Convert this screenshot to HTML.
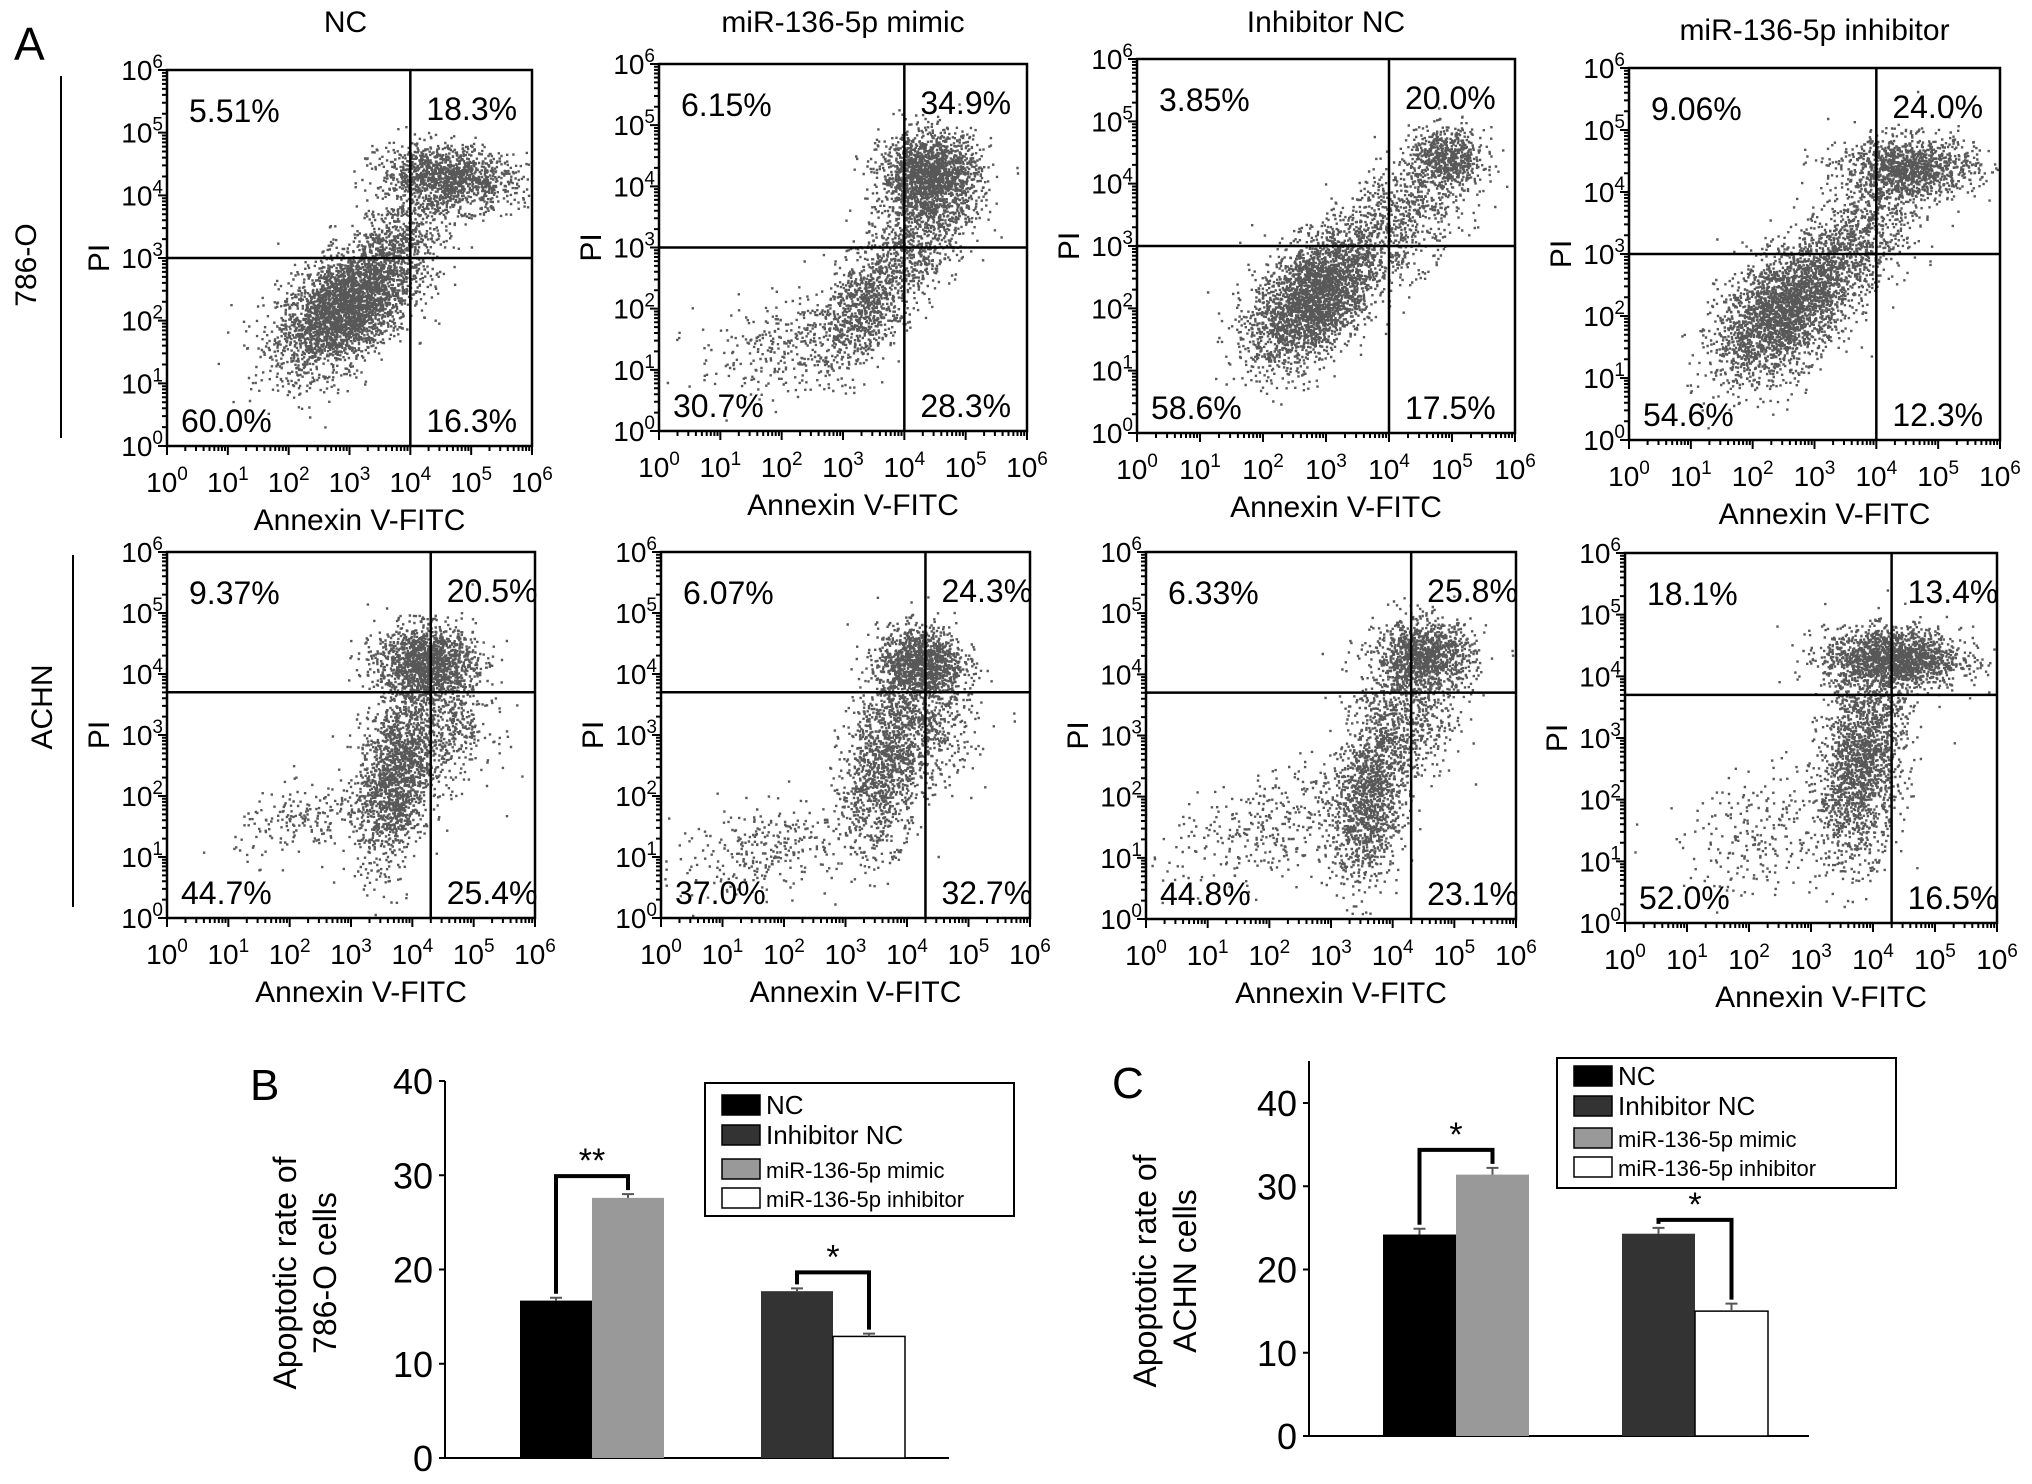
<!DOCTYPE html>
<html><head><meta charset="utf-8"><style>
html,body{margin:0;padding:0;background:#fff;}
svg{display:block;font-family:"Liberation Sans",Arial,sans-serif;}
</style></head><body>
<svg id="fig" width="2032" height="1484" viewBox="0 0 2032 1484" xmlns="http://www.w3.org/2000/svg">
<rect x="0" y="0" width="2032" height="1484" fill="#fff"/>
<text x="14" y="60" font-size="46">A</text>
<text x="250" y="1100" font-size="44">B</text>
<text x="1112" y="1098" font-size="44">C</text>
<line x1="61" y1="76" x2="61" y2="438" stroke="#000" stroke-width="2"/>
<text transform="translate(36,265) rotate(-90)" text-anchor="middle" font-size="30">786-O</text>
<line x1="73" y1="555" x2="73" y2="907" stroke="#000" stroke-width="2"/>
<text transform="translate(52,707) rotate(-90)" text-anchor="middle" font-size="30">ACHN</text>
<g id="scatters"></g>
<g id="barB"></g>
<g id="barC"></g>
</svg>
<script>
// ---------- scatter panel data ----------
const panelTitles = ['NC','miR-136-5p mimic','Inhibitor NC','miR-136-5p inhibitor'];
const pctRow1 = [['5.51%','18.3%','60.0%','16.3%'],['6.15%','34.9%','30.7%','28.3%'],['3.85%','20.0%','58.6%','17.5%'],['9.06%','24.0%','54.6%','12.3%']];
const pctRow2 = [['9.37%','20.5%','44.7%','25.4%'],['6.07%','24.3%','37.0%','32.7%'],['6.33%','25.8%','44.8%','23.1%'],['18.1%','13.4%','52.0%','16.5%']];
const gateXRow1 = [4,4,4,4];
const gateYRow1 = [3,3,3,3];
const gateXRow2 = [4.3,4.3,4.3,4.3];
const gateYRow2 = [3.7,3.7,3.7,3.7];
// cell clusters [log x, log y, sd x, sd y, corr, count]
const clustersRow1 = [
 [[2.9,2.2,0.55,0.5,0.5,3000],[4.6,4.3,0.55,0.25,-0.2,1300],[3.8,3.3,0.5,0.5,0.6,650]],
 [[4.4,4.2,0.4,0.35,0,1700],[3.3,2.0,0.4,0.5,0.5,800],[2.0,1.4,0.7,0.4,0.3,300],[4.2,3.2,0.45,0.6,0.4,800]],
 [[2.8,2.2,0.5,0.55,0.5,2900],[4.9,4.4,0.3,0.25,0,650],[4.2,3.5,0.5,0.5,0.4,650]],
 [[2.5,2.1,0.55,0.55,0.5,2600],[4.5,4.4,0.55,0.25,0,1200],[3.7,3.3,0.5,0.5,0.5,800]]
];
const clustersRow2 = [
 [[4.2,4.2,0.4,0.3,0,1450],[3.7,2.3,0.3,0.7,0.3,1550],[2.3,1.6,0.6,0.3,0.3,200],[4.5,3.2,0.4,0.5,0,500]],
 [[4.2,4.2,0.35,0.3,0,1200],[3.6,2.5,0.35,0.7,0.3,1200],[1.8,1.2,0.8,0.4,0.4,300],[4.3,3.2,0.4,0.5,0,500]],
 [[4.5,4.3,0.4,0.3,0,1200],[3.6,2.0,0.3,0.7,0.3,1300],[2.0,1.5,0.8,0.5,0.4,350],[4.2,3.3,0.4,0.5,0,500]],
 [[4.3,4.3,0.55,0.25,0,1700],[3.8,2.6,0.35,0.8,0.3,1800],[2.3,1.5,0.7,0.5,0.3,250]]
];
const decades = [0,1,2,3,4,5,6];

// ---------- bar chart data ----------
const barCategories = ['NC','miR-136-5p mimic','Inhibitor NC','miR-136-5p inhibitor'];
const barColors = ['#000','#999','#333','#fff'];
const valuesB = [16.7,27.6,17.7,12.9];
const errorsB = [0.3,0.4,0.3,0.3];
const valuesC = [24.2,31.4,24.3,15.0];
const errorsC = [0.7,0.8,0.7,0.9];
const ticksB = [0,10,20,30,40];
const ticksC = [0,10,20,30,40];
const legendLabels = ['NC','Inhibitor NC','miR-136-5p mimic','miR-136-5p inhibitor'];
const legendColors = ['#000','#333','#999','#fff'];

const NS='http://www.w3.org/2000/svg';
function mk(tag,attrs,parent){const e=document.createElementNS(NS,tag);for(const k in attrs)e.setAttribute(k,attrs[k]);if(parent)parent.appendChild(e);return e;}

let seed=12345;
function rnd(){seed=(seed*1103515245+12345)%2147483648;return seed/2147483648;}
function gauss(){let u=rnd()||1e-9,v=rnd();return Math.sqrt(-2*Math.log(u))*Math.cos(2*Math.PI*v);}

const layoutRow1=[{l:167,t:70,r:532,b:446},{l:659,t:64,r:1027,b:431},{l:1137,t:59,r:1515,b:433},{l:1629,t:68,r:2000,b:440}];
const layoutRow2=[{l:167,t:552,r:535,b:918},{l:661,t:552,r:1030,b:918},{l:1146,t:552,r:1516,b:919},{l:1625,t:553,r:1997,b:923}];
const titleY=[32,32,32,40];

const root=document.getElementById('scatters');
function drawPanel(row,col,L,pct,gx,gy,clusters){
  const g=mk('g',{},root);
  
  
  const sx=v=>L.l+(L.r-L.l)*v/6, sy=v=>L.b-(L.b-L.t)*v/6;
  let d='';
  clusters.forEach(c=>{
    for(let i=0;i<c[5];i++){
      const a=gauss(),b=gauss();
      let x=c[0]+c[2]*a, y=c[1]+c[3]*(c[4]*a+Math.sqrt(1-c[4]*c[4])*b);
      if(x<0.05||x>5.95||y<0.05||y>5.95)continue;
      d+='M'+sx(x).toFixed(1)+' '+sy(y).toFixed(1)+'h2.4v2.4h-2.4z';
    }
  });
  const dots=mk('path',{d:d,fill:'#111','fill-opacity':'0.7'},g);
  
  
  const box=mk('rect',{x:L.l,y:L.t,width:L.r-L.l,height:L.b-L.t,fill:'none',stroke:'#000','stroke-width':2.5},g);
  
  
  const vx=sx(gx), hy=sy(gy);
  const vl=mk('line',{x1:vx,y1:L.t,x2:vx,y2:L.b,stroke:'#000','stroke-width':2.5},g);
  
  
  const hl=mk('line',{x1:L.l,y1:hy,x2:L.r,y2:hy,stroke:'#000','stroke-width':2.5},g);
  
  
  let tk='';
  decades.forEach(k=>{
    tk+='M'+sx(k)+' '+L.b+'v9M'+L.l+' '+sy(k)+'h-9';
    if(k<6)for(let m=2;m<10;m++){const f=k+Math.log10(m);tk+='M'+sx(f).toFixed(1)+' '+L.b+'v5M'+L.l+' '+sy(f).toFixed(1)+'h-5';}
  });
  const tp=mk('path',{d:tk,stroke:'#000','stroke-width':2,fill:'none'},g);
  
  
  decades.forEach(k=>{
    const t=mk('text',{x:sx(k),y:L.b+46,'text-anchor':'middle','font-size':28},g);
    
    
    t.innerHTML='10<tspan dy="-12" font-size="19">'+k+'</tspan>';
    const u=mk('text',{x:L.l-4,y:sy(k)+10,'text-anchor':'end','font-size':28},g);
    
    
    u.innerHTML='10<tspan dy="-12" font-size="19">'+k+'</tspan>';
  });
  const xt=mk('text',{x:(L.l+L.r)/2+10,y:L.b+84,'text-anchor':'middle','font-size':30},g);
  
  
  xt.textContent='Annexin V-FITC';
  const cy=(L.t+L.b)/2;
  const yt=mk('text',{transform:'translate('+(L.l-58)+','+cy+') rotate(-90)','text-anchor':'middle','font-size':30},g);
  
  
  yt.textContent='PI';
  const pos=[[L.l+22,L.t+52],[vx+16,L.t+50],[L.l+14,L.b-14],[vx+16,L.b-14]];
  const names=['pct-upper-left','pct-upper-right','pct-lower-left','pct-lower-right'];
  pct.forEach((p,i)=>{
    const t=mk('text',{x:pos[i][0],y:pos[i][1],'font-size':32},g);
    
    
    t.textContent=p;
  });
  if(row===0){
    const tt=mk('text',{x:(L.l+L.r)/2+(col===0?-4:0),y:titleY[col],'text-anchor':'middle','font-size':30},g);
    
    
    tt.textContent=panelTitles[col];
  }
}
for(let c=0;c<4;c++){
  drawPanel(0,c,layoutRow1[c],pctRow1[c],gateXRow1[c],gateYRow1[c],clustersRow1[c]);
  drawPanel(1,c,layoutRow2[c],pctRow2[c],gateXRow2[c],gateYRow2[c],clustersRow2[c]);
}

// ---------- bar charts ----------
function drawBars(gid,cfg,values,errors,ticks,title2,stars){
  const g=document.getElementById(gid);
  const y=v=>cfg.y0-(cfg.y0-cfg.y40)*v/40;
  const ax=mk('path',{d:'M'+cfg.ax+' '+cfg.top+'V'+cfg.y0+'H'+cfg.end,stroke:'#000','stroke-width':2,fill:'none'},g);
  
  
  ticks.forEach(t=>{
    const l=mk('line',{x1:cfg.ax-6,x2:cfg.ax,y1:y(t),y2:y(t),stroke:'#000','stroke-width':2},g);
    
    
    const tx=mk('text',{x:cfg.ax-12,y:y(t)+13,'text-anchor':'end','font-size':36},g);
    
    
    tx.textContent=t;
  });
  const yt=mk('text',{transform:'translate('+cfg.lx+','+cfg.ly+') rotate(-90)','text-anchor':'middle','font-size':32},g);
  
  
  yt.innerHTML='<tspan x="0" dy="-8">Apoptotic rate of</tspan><tspan x="0" dy="40">'+title2+'</tspan>';
  const bx=[];
  values.forEach((v,i)=>{
    const grp=Math.floor(i/2), sub=i%2;
    const x0=cfg.g[grp]-cfg.w+sub*cfg.w;
    bx.push(x0+cfg.w/2);
    const r=mk('rect',{x:x0,y:y(v),width:cfg.w,height:cfg.y0-y(v),fill:barColors[i],stroke:i===3?'#000':'none','stroke-width':1.5},g);
    
    
    const e=mk('path',{d:'M'+(x0+cfg.w/2)+' '+y(v)+'V'+y(v+errors[i])+'m-6 0h12',stroke:'#555','stroke-width':2,fill:'none'},g);
    
    
  });
  [[0,1],[2,3]].forEach((p,k)=>{
    const top=Math.min(y(values[p[0]]+errors[p[0]]),y(values[p[1]]+errors[p[1]]))-cfg.bh[k];
    const b=mk('path',{d:'M'+bx[p[0]]+' '+(y(values[p[0]]+errors[p[0]])-4)+'V'+top+'H'+bx[p[1]]+'V'+(y(values[p[1]]+errors[p[1]])-4),stroke:'#000','stroke-width':4,fill:'none'},g);
    
    
    const s=mk('text',{x:(bx[p[0]]+bx[p[1]])/2,y:top-4,'text-anchor':'middle','font-size':34},g);
    
    
    s.textContent=stars[k];
  });
  const lg=mk('g',{},g);
  
  
  mk('rect',{x:cfg.lb[0],y:cfg.lb[1],width:cfg.lb[2],height:cfg.lb[3],fill:'#fff',stroke:'#000','stroke-width':2},lg);
  legendLabels.forEach((t,i)=>{
    const ey=cfg.ley[i];
    const sw=mk('rect',{x:cfg.lb[0]+17,y:ey-10,width:38,height:20,fill:legendColors[i],stroke:'#000','stroke-width':1.5},lg);
    
    
    const tx=mk('text',{x:cfg.lb[0]+61,y:ey+9,'font-size':i<2?26:22},lg);
    
    
    tx.textContent=t;
  });
}
drawBars('barB',{ax:445,y0:1458,y40:1081,top:1081,end:949,g:[592,833],w:72,lx:304,ly:1273,bh:[18,16],lb:[705,1083,309,133],ley:[1105,1135,1169,1198]},valuesB,errorsB,ticksB,'786-O cells',['**','*']);
drawBars('barC',{ax:1309,y0:1436,y40:1103,top:1061,end:1809,g:[1456,1695],w:73,lx:1164,ly:1271,bh:[18,8],lb:[1557,1058,339,130],ley:[1076,1106,1138,1167]},valuesC,errorsC,ticksC,'ACHN cells',['*','*']);
</script>
</body></html>
